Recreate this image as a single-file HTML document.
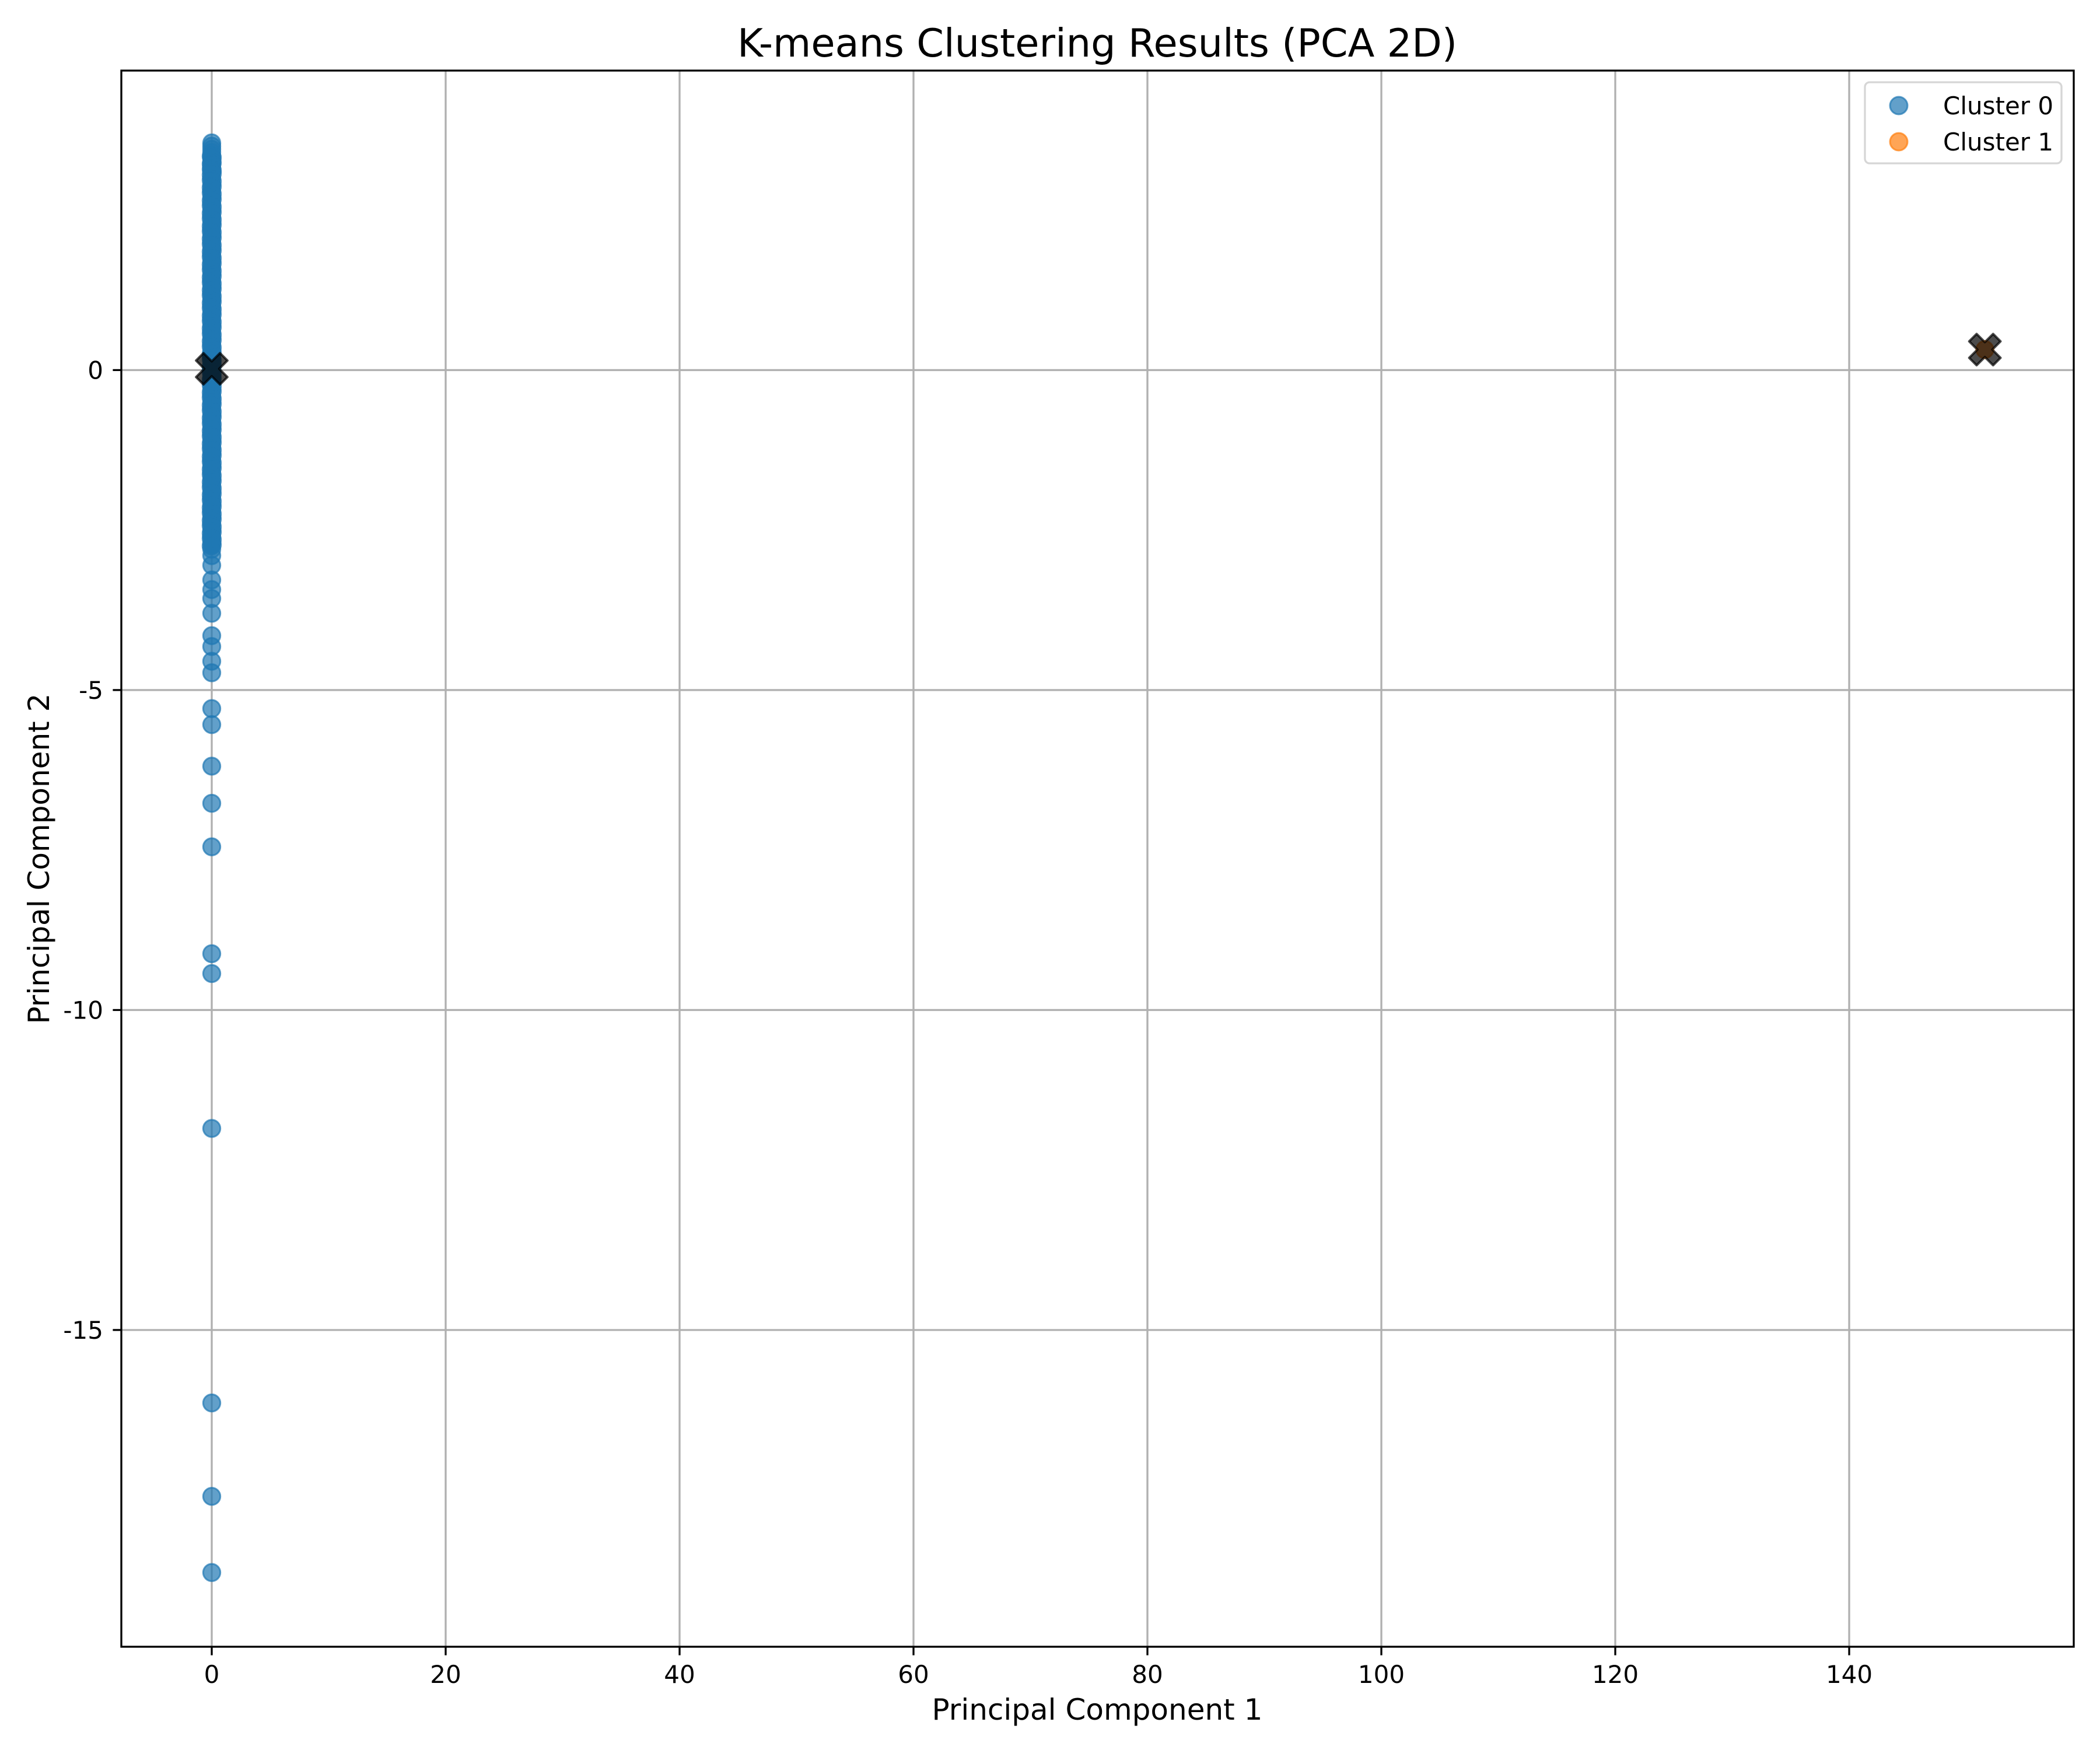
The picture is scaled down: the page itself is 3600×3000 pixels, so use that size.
<!DOCTYPE html>
<html><head><meta charset="utf-8"><style>
html,body{margin:0;padding:0;background:#fff;}
svg{display:block;font-family:"DejaVu Sans","Liberation Sans",sans-serif;}
</style></head><body>
<svg id="chart" width="3600" height="3000" viewBox="0 0 3600 3000" xmlns="http://www.w3.org/2000/svg">
<rect x="0" y="0" width="3600" height="3000" fill="#fff"/>
<g id="grid"></g>
<g id="points"></g>
<g id="centroids"></g>
<rect x="208" y="121" width="3347" height="2702" fill="none" stroke="#000" stroke-width="3.3"/>
<g id="ticks"></g>
<text x="1881" y="97" font-size="67" text-anchor="middle">K-means Clustering Results (PCA 2D)</text>
<text x="1881" y="2948" font-size="50" text-anchor="middle">Principal Component 1</text>
<text x="0" y="0" font-size="50" text-anchor="middle" transform="translate(84,1472) rotate(-90)">Principal Component 2</text>
<g>
<rect x="3197" y="141" width="337" height="139" rx="8" fill="#fff" fill-opacity="0.8" stroke="#d6d6d6" stroke-width="3.3"/>
<circle cx="3255" cy="181" r="15" fill="#1f77b4" fill-opacity="0.7" stroke="#1f77b4" stroke-opacity="0.7" stroke-width="3"/>
<text x="3331" y="196" font-size="42">Cluster 0</text>
<circle cx="3255" cy="243" r="15" fill="#ff7f0e" fill-opacity="0.7" stroke="#ff7f0e" stroke-opacity="0.7" stroke-width="3"/>
<text x="3331" y="258" font-size="42">Cluster 1</text>
</g>
</svg>
<script>
const xTicks = [0, 20, 40, 60, 80, 100, 120, 140];
const yTicks = [0, -5, -10, -15];
const cluster0Y = [3.55,3.5,3.45,3.4,3.35,3.3,3.25,3.2,3.15,3.1,3.0,2.9,2.8,2.7,2.6,2.5,2.4,2.3,2.2,2.1,2.0,1.9,1.8,1.7,1.6,1.5,1.4,1.3,1.2,1.1,1.0,0.9,0.8,0.7,0.6,0.5,0.4,0.3,0.2,0.1,0.0,-0.1,-0.2,-0.3,-0.4,-0.5,-0.6,-0.7,-0.8,-0.9,-1.0,-1.1,-1.2,-1.3,-1.4,-1.5,-1.6,-1.7,-1.8,-1.9,-2.0,-2.1,-2.2,-2.3,-2.4,-2.5,-2.6,-2.7,-2.8,-2.9,-3.05,-3.28,-3.43,-3.57,-3.8,-4.15,-4.32,-4.55,-4.73,-5.29,-5.54,-6.19,-6.77,-7.45,-9.12,-9.43,-11.85,-16.14,-17.6,-18.79];
const cluster0DenseY = [3.32,3.22,3.12,3.05,2.95,2.85,2.75,2.65,2.55,2.45,2.35,2.25,2.15,2.05,1.95,1.85,1.75,1.65,1.55,1.45,1.35,1.25,1.15,1.05,0.95,0.85,0.75,0.65,0.55,0.45,0.35,0.25,0.15,0.05,-0.05,-0.15,-0.25,-0.35,-0.45,-0.55,-0.65,-0.75,-0.85,-0.95,-1.05,-1.15,-1.25,-1.35,-1.45,-1.55,-1.65,-1.75,-1.85,-1.95,-2.05,-2.15,-2.25,-2.35,-2.45,-2.55,-2.65,-2.75];
const cluster0DenseX = [0.05,-0.05,0.05,-0.05,0.05,-0.05,0.05,-0.05,0.05,-0.05,0.05,-0.05,0.05,-0.05,0.05,-0.05,0.05,-0.05,0.05,-0.05,0.05,-0.05,0.05,-0.05,0.05,-0.05,0.05,-0.05,0.05,-0.05,0.05,-0.05,0.05,-0.05,0.05,-0.05,0.05,-0.05,0.05,-0.05,0.05,-0.05,0.05,-0.05,0.05,-0.05,0.05,-0.05,0.05,-0.05,0.05,-0.05,0.05,-0.05,0.05,-0.05,0.05,-0.05,0.05,-0.05,0.05,-0.05];
const cluster0X = cluster0Y.map(() => 0);
const cluster1X = [151.6];
const cluster1Y = [0.32];
const centroidX = [0.0, 151.6];
const centroidY = [0.02, 0.32];

const X0 = -7.73, X1 = 159.2, Y0 = -19.95, Y1 = 4.68;
const L = 208, R = 3555, T = 121, B = 2823;
function sx(v){ return L + (v - X0) / (X1 - X0) * (R - L); }
function sy(v){ return B - (v - Y0) / (Y1 - Y0) * (B - T); }
const NS = 'http://www.w3.org/2000/svg';
function mk(tag, attrs, parent){ const e = document.createElementNS(NS, tag); for (const k in attrs) e.setAttribute(k, attrs[k]); parent.appendChild(e); return e; }
const grid = document.getElementById('grid'), ticks = document.getElementById('ticks');
xTicks.forEach(t => {
  const x = sx(t);
  const g = mk('line', {x1:x, x2:x, y1:T, y2:B, stroke:'#b0b0b0', 'stroke-width':3.3}, grid);
  
  
  const tk = mk('line', {x1:x, x2:x, y1:B, y2:B+14.6, stroke:'#000', 'stroke-width':3.3}, ticks);
  
  
  const tx = mk('text', {x:x, y:B+62, 'font-size':42, 'text-anchor':'middle'}, ticks);
  tx.textContent = String(t);
  
  
});
yTicks.forEach(t => {
  const y = sy(t);
  const g = mk('line', {x1:L, x2:R, y1:y, y2:y, stroke:'#b0b0b0', 'stroke-width':3.3}, grid);
  
  
  const tk = mk('line', {x1:L-14.6, x2:L, y1:y, y2:y, stroke:'#000', 'stroke-width':3.3}, ticks);
  
  
  const tx = mk('text', {x:177, y:y+15, 'font-size':42, 'text-anchor':'end'}, ticks);
  tx.textContent = t < 0 ? '-' + Math.abs(t) : String(t);
  
  
});
const pts = document.getElementById('points');
cluster0Y.forEach((v, i) => {
  const c = mk('circle', {cx:sx(cluster0X[i]), cy:sy(v), r:14.7, fill:'#1f77b4', 'fill-opacity':0.7, stroke:'#1f77b4', 'stroke-opacity':0.7, 'stroke-width':3}, pts);
  
  
});
cluster0DenseY.forEach((v, i) => {
  const c = mk('circle', {cx:sx(cluster0DenseX[i]), cy:sy(v), r:14.7, fill:'#1f77b4', 'fill-opacity':0.7, stroke:'#1f77b4', 'stroke-opacity':0.7, 'stroke-width':3}, pts);
  
  
});
cluster0DenseY.forEach((v, i) => {
  const c = mk('circle', {cx:sx(-cluster0DenseX[i]), cy:sy(v + 0.02), r:14.7, fill:'#1f77b4', 'fill-opacity':0.7, stroke:'#1f77b4', 'stroke-opacity':0.7, 'stroke-width':3}, pts);
  
  
});
cluster1Y.forEach((v, i) => {
  const c = mk('circle', {cx:sx(cluster1X[i]), cy:sy(v), r:14.7, fill:'#ff7f0e', 'fill-opacity':0.7, stroke:'#ff7f0e', 'stroke-opacity':0.7, 'stroke-width':3}, pts);
  
  
});
const cg = document.getElementById('centroids');
centroidX.forEach((v, i) => {
  const cx = sx(v), cy = sy(centroidY[i]);
  const h = 29, w = 9;
  const d = `M${-w},${-h}L${w},${-h}L${w},${-w}L${h},${-w}L${h},${w}L${w},${w}L${w},${h}L${-w},${h}L${-w},${w}L${-h},${w}L${-h},${-w}L${-w},${-w}Z`;
  const p = mk('path', {d:d, transform:`translate(${cx},${cy}) rotate(45)`, fill:'#000', 'fill-opacity':0.7, stroke:'#000', 'stroke-opacity':0.7, 'stroke-width':4, 'stroke-linejoin':'round'}, cg);
  
  
});
</script>
</body></html>
